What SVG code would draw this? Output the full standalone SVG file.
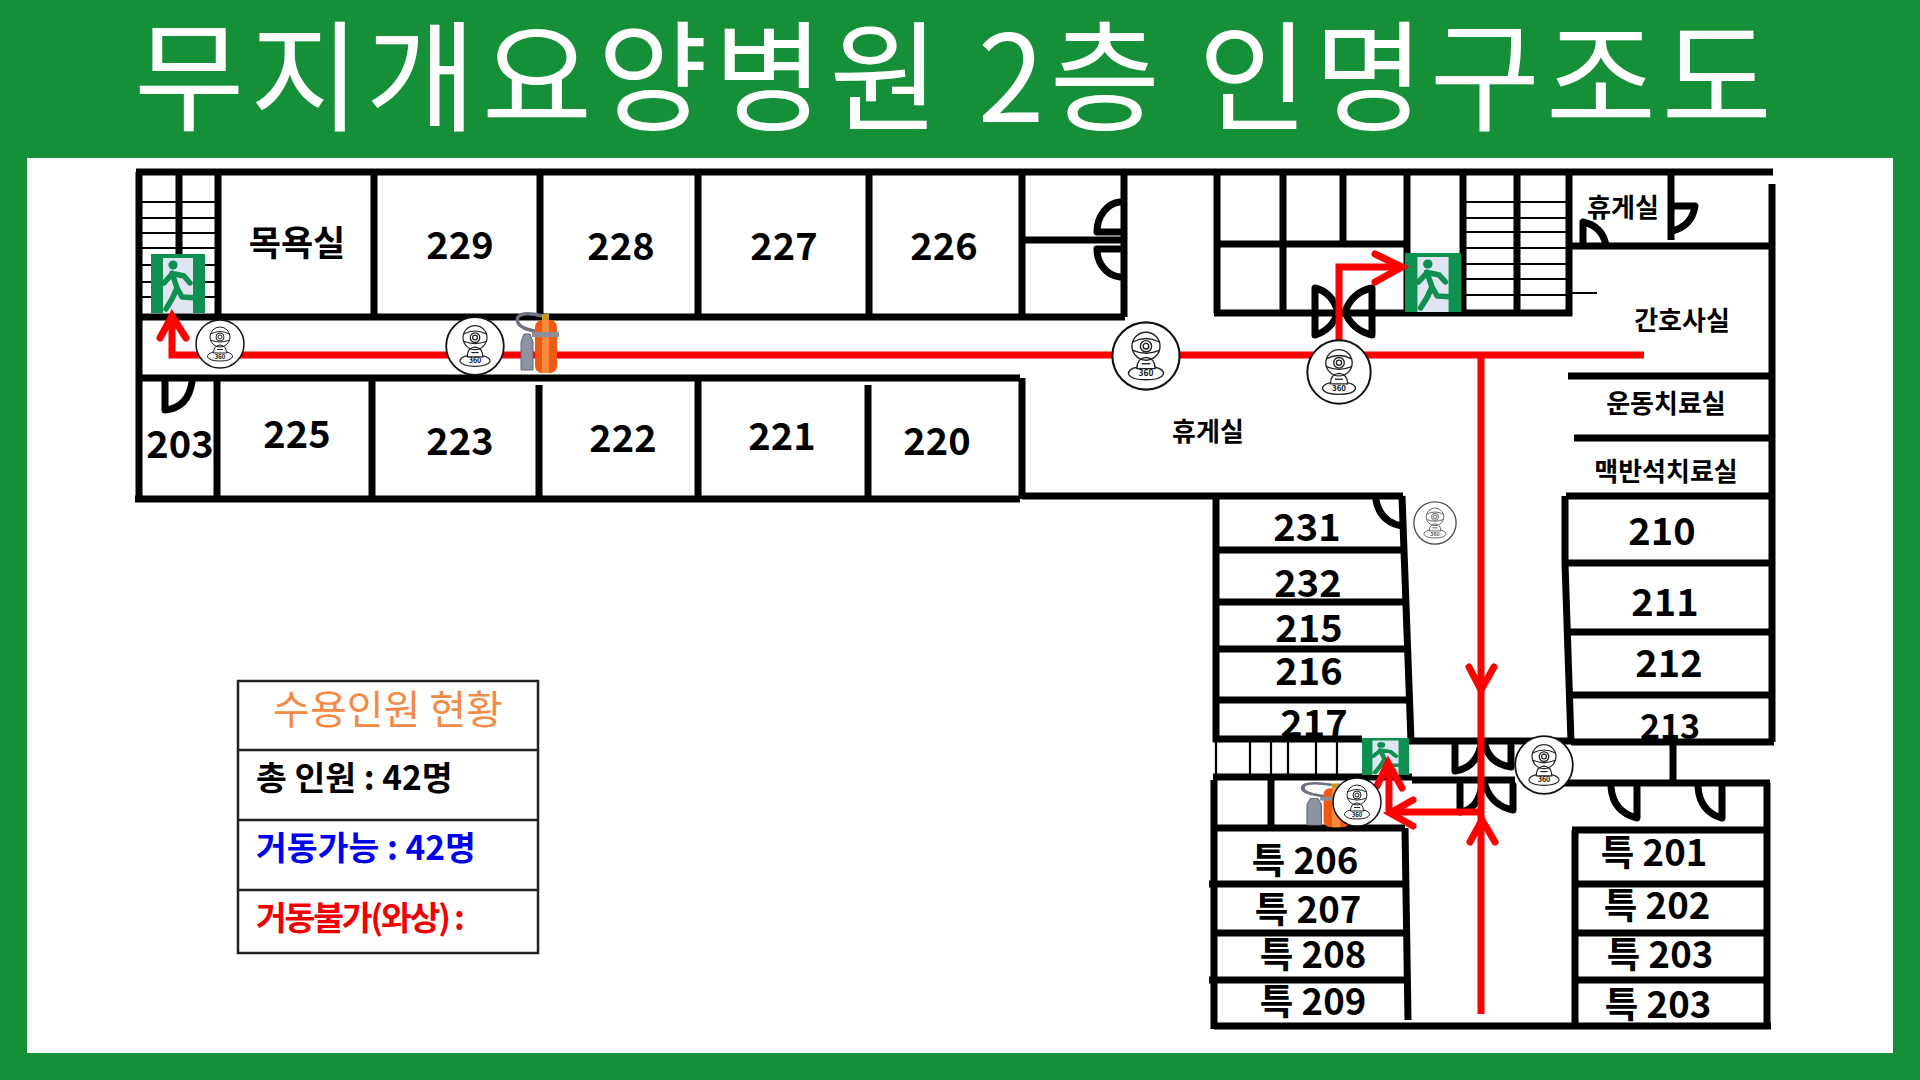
<svg xmlns="http://www.w3.org/2000/svg" xmlns:xlink="http://www.w3.org/1999/xlink" width="1920" height="1080" viewBox="0 0 1920 1080">
<style>
text{font-family:"Noto Sans CJK KR","Noto Sans",sans-serif;text-anchor:middle}
.w{fill:none;stroke:#000;stroke-width:7;stroke-linecap:butt;stroke-linejoin:miter}
.t{fill:none;stroke:#000;stroke-width:2.2}
.d{fill:none;stroke:#000;stroke-width:7;stroke-linejoin:round;stroke-linecap:round}
.r{fill:none;stroke:#fe0000;stroke-width:7;stroke-linejoin:miter}
.h{fill:none;stroke:#fe0000;stroke-width:7;stroke-linecap:round;stroke-linejoin:miter}
.n{font-size:38px;font-weight:700;fill:#000}
.s{font-size:36.5px;font-weight:700;fill:#000}
.k{font-size:26px;font-weight:700;fill:#000}
.l{font-size:33.5px;font-weight:700;text-anchor:start}
.c{fill:none;stroke:#222;stroke-width:2}
</style>
<defs>
<symbol id="exit" viewBox="0 0 54 59" preserveAspectRatio="none">
<rect width="54" height="59" fill="#0e9150"/>
<rect x="12" y="4" width="30" height="55" fill="#dfe6f2"/>
<circle cx="22" cy="11" r="4.6" fill="#0e9150"/>
<path d="M21 19L26 34M21 20L13 29M24 20L33 22L39 29M26 34L21 45L15 55M26 34L31 43L47 44" fill="none" stroke="#0e9150" stroke-width="5.5" stroke-linecap="round" stroke-linejoin="round"/>
</symbol>
<symbol id="cam" viewBox="-50 -50 100 100">
<circle r="48" fill="#fff" stroke="#111" stroke-width="3"/>
<circle cy="-14" r="20" class="c"/>
<circle cy="-14" r="8" class="c"/>
<circle cy="-14" r="4" class="c"/>
<path d="M-19 -20Q0 -30 19 -20M-19 -8Q0 0 19 -8" class="c"/>
<path d="M-13 18Q-13 3 0 2Q13 3 13 18Z" class="c"/>
<path d="M-6 11H6" class="c"/>
<path d="M-13 16Q-26 19 -25 26Q-21 34 0 34Q21 34 25 26Q26 19 13 16" class="c"/>
<text y="29" font-size="12" font-weight="700" fill="#111">360</text>
</symbol>
<symbol id="ext" viewBox="0 0 44 62" preserveAspectRatio="none">
<path d="M27 4Q8 -1 3 5Q0 13 12 17L22 20" fill="none" stroke="#6d7280" stroke-width="3.5"/>
<path d="M9 22H15L18 30V58H6V30Z" fill="#8d93a3" stroke="#5f6470"/>
<rect x="20" y="8" width="22" height="53" rx="7" fill="#ef5a12"/>
<rect x="27" y="8" width="7" height="53" fill="#f98b3c"/>
<rect x="17" y="20" width="27" height="5" fill="#8c8f99"/>
<rect x="27" y="2" width="7" height="6" fill="#c9971d"/>
</symbol>
</defs>

<rect id="frame" width="1920" height="1080" fill="#159039"/>
<rect id="sheet" x="27" y="158" width="1866" height="895" fill="#fff"/>
<text id="title" x="953" y="122" font-size="120" fill="#fff" textLength="1638" lengthAdjust="spacing">무지개요양병원 2층 인명구조도</text>

<g id="labels">
<g id="room-bath"><text class="k" style="font-size:35px" x="297" y="256">목욕실</text></g>
<g id="room-229"><text class="n" x="460" y="259">229</text></g>
<g id="room-228"><text class="n" x="621" y="260">228</text></g>
<g id="room-227"><text class="n" x="784" y="260">227</text></g>
<g id="room-226"><text class="n" x="944" y="260">226</text></g>
<g id="room-203a"><text class="n" x="180" y="458">203</text></g>
<g id="room-225"><text class="n" x="297" y="448">225</text></g>
<g id="room-223"><text class="n" x="460" y="455">223</text></g>
<g id="room-222"><text class="n" x="623" y="452">222</text></g>
<g id="room-221"><text class="n" x="782" y="450">221</text></g>
<g id="room-220"><text class="n" x="937" y="455">220</text></g>
<g id="room-lounge"><text class="k" x="1208" y="441">휴게실</text></g>
<g id="room-lounge2"><text class="k" x="1623" y="217">휴게실</text></g>
<g id="room-nurse"><text class="k" x="1682" y="330">간호사실</text></g>
<g id="room-pt"><text class="k" x="1666" y="413">운동치료실</text></g>
<g id="room-stone"><text class="k" x="1666" y="481">맥반석치료실</text></g>
<g id="room-231"><text class="n" x="1307" y="541">231</text></g>
<g id="room-232"><text class="n" x="1308" y="597">232</text></g>
<g id="room-215"><text class="n" x="1309" y="642">215</text></g>
<g id="room-216"><text class="n" x="1309" y="685">216</text></g>
<g id="room-217"><text class="n" x="1314" y="737">217</text></g>
<g id="room-210"><text class="n" x="1662" y="545">210</text></g>
<g id="room-211"><text class="n" x="1665" y="616">211</text></g>
<g id="room-212"><text class="n" x="1669" y="677">212</text></g>
<g id="room-213"><text class="n" style="font-size:34px" x="1670" y="739">213</text></g>
<g id="room-206"><text class="s" x="1305" y="874">특 206</text></g>
<g id="room-207"><text class="s" x="1308" y="923">특 207</text></g>
<g id="room-208"><text class="s" x="1313" y="968">특 208</text></g>
<g id="room-209"><text class="s" x="1313" y="1015">특 209</text></g>
<g id="room-201"><text class="s" x="1654" y="866">특 201</text></g>
<g id="room-202"><text class="s" x="1657" y="919">특 202</text></g>
<g id="room-203b"><text class="s" x="1660" y="968">특 203</text></g>
<g id="room-203c"><text class="s" x="1658" y="1018">특 203</text></g>
</g>

<g id="walls">
<path class="w" d="M136 172H1773M139 172V499M135 499H1020M139 317H1125M139 378H1020M218 172V317M374 172V317M540 172V317M698 172V317M869 172V317M1022 172V317M1124 172V317M1021 240H1124"/>
<path class="w" d="M217 378V499M372 378V499M539 385V499M698 378V499M868 385V499M1022 378V499M179 172V254"/>
<path class="w" d="M1217 172V313M1283 172V313M1343 172V244M1407 172V313M1463 172V313M1517 172V313M1569 172V316M1217 244H1407M1214 313H1572M1569 246H1771M1671 172V240M1772 184V742"/>
<path class="w" d="M1022 496H1403M1216 496V742M1402 496L1411 741M1216 550H1403M1216 602H1405M1216 649H1407M1216 700H1409M1213 739H1362M1409 741H1572M1213 777H1412M1412 780H1515M1560 783H1770M1214 780V1029M1271 780V828M1211 828H1405M1405 828L1408 1020M1209 884H1405M1214 933H1406M1209 980H1407M1214 1026H1771"/>
<path class="w" d="M1565 496V563M1566 496H1772M1568 376H1772M1574 438H1772M1565 563L1571 742M1568 563H1772M1570 632H1772M1571 695H1770M1571 742H1774M1673 742V783M1767 783V1029M1575 830V1026M1572 830H1767M1575 884H1767M1575 933H1767M1575 980H1767"/>
<path class="t" d="M139 202H218M139 218H218M139 233H218M139 248H218M139 265H218M139 282H218M139 297H218M1463 202H1569M1463 218H1569M1463 232H1569M1463 248H1569M1463 264H1569M1463 279H1569M1463 295H1569M1569 293H1597M1250 739V777M1271 739V777M1288 739V777M1316 739V777M1337 739V777M1216 739V777"/>
</g>

<g id="doors">
<path class="d" d="M1120 202A25 30 0 0 0 1097 232H1120"/>
<path class="d" d="M1097 249H1120M1097 249A25 28 0 0 0 1120 277"/>
<path class="d" d="M1315 288V335M1315 288Q1332 292 1338 312Q1332 330 1315 335"/>
<path class="d" d="M1372 288V335M1372 288Q1352 292 1345 312Q1352 330 1372 335"/>
<path class="d" d="M165 382V410Q188 408 192 382"/>
<path class="d" d="M1376 500Q1380 522 1402 526"/>
<path class="d" d="M1672 206H1695Q1692 226 1672 231"/>
<path class="d" d="M1583 245V222Q1602 226 1606 245"/>
<path class="d" d="M1455 745V771Q1476 768 1481 745"/>
<path class="d" d="M1511 745V767Q1490 764 1485 745"/>
<path class="d" d="M1460 785V812Q1478 810 1482 785"/>
<path class="d" d="M1513 785V810Q1492 806 1485 785"/>
<path class="d" d="M1611 787Q1613 812 1637 818V787"/>
<path class="d" d="M1698 787Q1700 812 1722 818V787"/>
</g>

<g id="signs">
<use href="#exit" x="151" y="254" width="54" height="59"/>
<use href="#exit" x="1405" y="253" width="56" height="59"/>
<use href="#exit" x="1362" y="738" width="47" height="37"/>
</g>

<g id="connectors">
<path class="r" d="M172 315V355H1644"/>
<path class="h" d="M160 338L172 316L186 338"/>
<path class="r" d="M1339 355V267H1400"/>
<path class="h" d="M1375 254L1402 267L1375 282"/>
<path class="r" d="M1481 355V1014"/>
<path class="h" d="M1469 667L1481 690L1494 667"/>
<path class="h" d="M1470 842L1482 820L1495 842"/>
<path class="r" d="M1479 812H1392"/>
<path class="h" d="M1413 800L1390 813L1413 826"/>
<path class="r" d="M1389 811V765"/>
<path class="h" d="M1377 786L1388 763L1402 788"/>
</g>

<g id="extinguishers">
<use href="#ext" x="515" y="312" width="44" height="62"/>
<use href="#ext" x="1300" y="782" width="52" height="46"/>
</g>

<g id="cameras">
<use href="#cam" x="195" y="319" width="50" height="50"/>
<use href="#cam" x="445" y="316" width="60" height="60"/>
<use href="#cam" x="1111" y="321" width="70" height="70"/>
<use href="#cam" x="1306" y="339" width="66" height="66"/>
<use href="#cam" x="1413" y="501" width="44" height="44" opacity=".75"/>
<use href="#cam" x="1514" y="735" width="60" height="60"/>
<use href="#cam" x="1332" y="777" width="50" height="50"/>
</g>

<g id="legend">
<rect x="238" y="681" width="300" height="272" fill="#fff" stroke="#222" stroke-width="2.5"/>
<path d="M238 750H538M238 820H538M238 890H538" stroke="#222" stroke-width="2.5"/>
<text x="388" y="724" font-size="40" fill="#f58a45">수용인원 현황</text>
<text class="l" x="256" y="790" fill="#000">총 인원 : 42명</text>
<text class="l" x="256" y="860" fill="#0000f0">거동가능 : 42명</text>
<text class="l" x="256" y="930" fill="#f00000" letter-spacing="-2.2">거동불가(와상) :</text>
</g>
</svg>
